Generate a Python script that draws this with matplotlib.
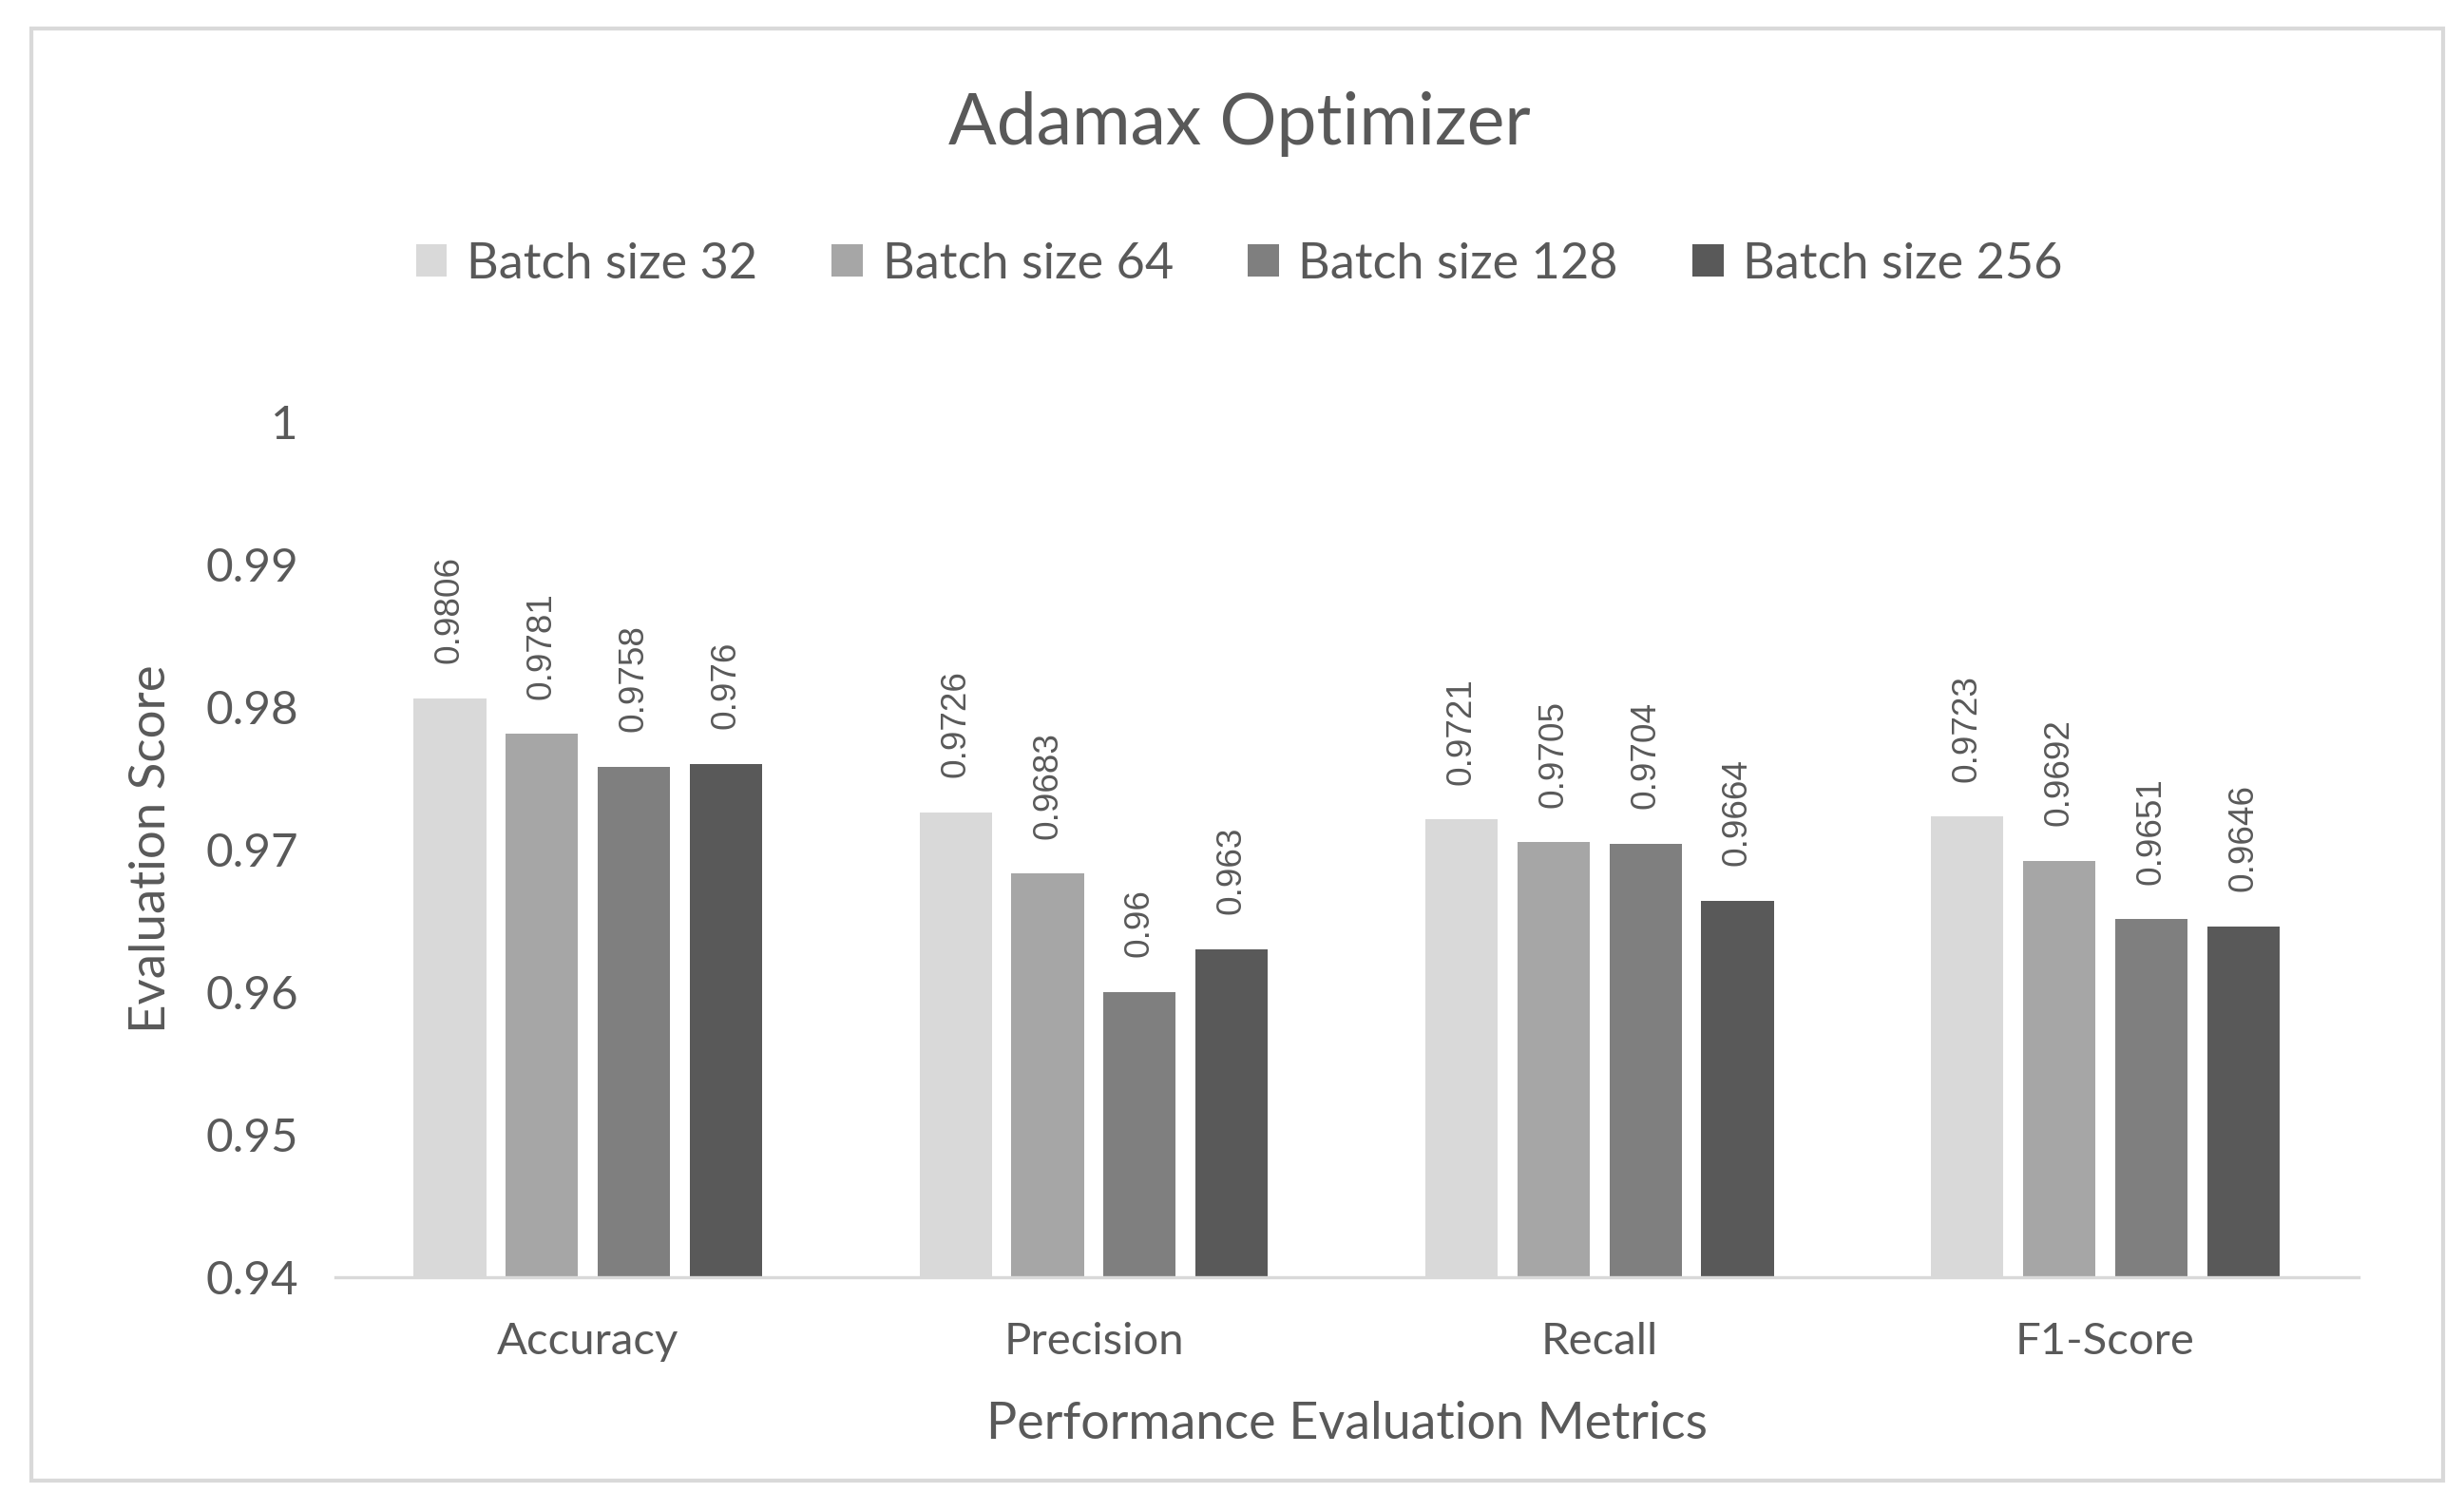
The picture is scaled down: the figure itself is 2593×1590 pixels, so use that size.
import matplotlib
matplotlib.use("Agg")
import matplotlib.pyplot as plt
import numpy as np
from matplotlib.patches import Rectangle

metrics = ["Accuracy", "Precision", "Recall", "F1-Score"]
series_names = ["Batch size 32", "Batch size 64", "Batch size 128", "Batch size 256"]
bs32 = [0.9806, 0.9726, 0.9721, 0.9723]
bs64 = [0.9781, 0.9683, 0.9705, 0.9692]
bs128 = [0.9758, 0.9600, 0.9704, 0.9651]
bs256 = [0.9760, 0.9630, 0.9664, 0.9646]
yticks = [0.94, 0.95, 0.96, 0.97, 0.98, 0.99, 1.0]
ytick_labels = ["0.94", "0.95", "0.96", "0.97", "0.98", "0.99", "1"]

colors = ["#d9d9d9", "#a6a6a6", "#7f7f7f", "#595959"]
txt = "#595959"
main_font = ["Lato", "DejaVu Sans"]
label_font = ["Liberation Sans", "DejaVu Sans"]

fig = plt.figure(figsize=(12.965, 7.95), dpi=200)
ax = fig.add_axes([0.136, 0.155, 0.821, 0.566])

x = np.arange(len(metrics))
width = 0.143
step = 0.182
all_series = [bs32, bs64, bs128, bs256]
for i, (vals, name, c) in enumerate(zip(all_series, series_names, colors)):
    pos = x + (i - 1.5) * step
    ax.bar(pos, np.array(vals) - 0.94, width, bottom=0.94, color=c, label=name)
    for xp, v in zip(pos, vals):
        ax.annotate(f"{v:g}", (xp, v), xytext=(0, 13), textcoords="offset points",
                    rotation=90, ha="center", va="bottom", fontsize=13.3,
                    color=txt, family=label_font)

ax.set_xlim(-0.5, 3.5)
ax.set_ylim(0.94, 1.0)
ax.set_yticks(yticks)
ax.set_yticklabels(ytick_labels, family=main_font, fontsize=17.8, color=txt)
ax.set_xticks(x)
ax.set_xticklabels(metrics, family=main_font, fontsize=17, color=txt)
ax.tick_params(axis="y", length=0, pad=14)
ax.tick_params(axis="x", length=0, pad=17)
for s in ["top", "right", "left"]:
    ax.spines[s].set_visible(False)
ax.spines["bottom"].set_color("#d9d9d9")
ax.spines["bottom"].set_linewidth(1.2)

ax.set_ylabel("Evaluation Score", family=main_font, fontsize=19, color=txt, labelpad=12)
ax.set_xlabel("Performance Evaluation Metrics", family=main_font, fontsize=19.4, color=txt, labelpad=15)

fig.text(0.503, 0.918, "Adamax Optimizer", ha="center", va="center",
         family=main_font, fontsize=27, color=txt)

leg = fig.legend(loc="center", bbox_to_anchor=(0.503, 0.825), ncol=4, frameon=False,
                 prop={"family": main_font, "size": 18.8}, handlelength=0.62,
                 handleheight=0.62, handletextpad=0.4, columnspacing=1.5)
for t in leg.get_texts():
    t.set_color(txt)

fig.patches.append(Rectangle((0.0127, 0.020), 0.979, 0.961, transform=fig.transFigure,
                             fill=False, edgecolor="#d9d9d9", linewidth=1.5))

fig.savefig("out.png", dpi=200, facecolor="white")
